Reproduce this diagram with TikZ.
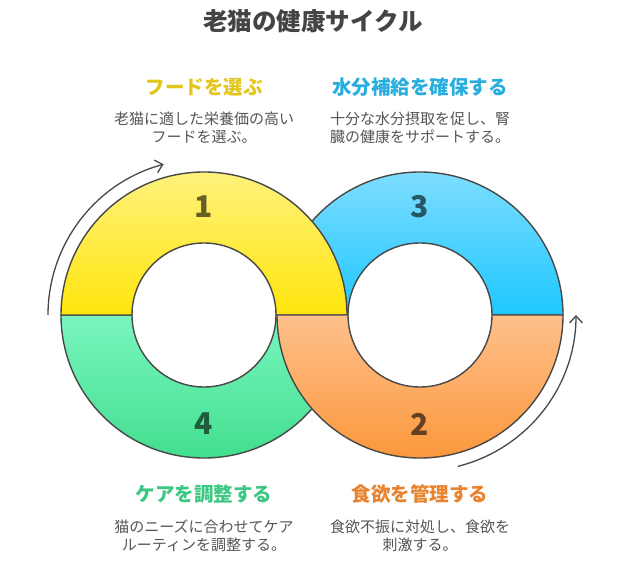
\documentclass[tikz,border=0pt]{standalone}
\usepackage{fontspec}
\newfontfamily\jpfont{Noto Sans CJK JP}
\usetikzlibrary{arrows.meta, positioning, calc}
\definecolor{colTitle}{RGB}{68, 68, 68}
\definecolor{colText}{RGB}{85, 85, 85}
\definecolor{colLine}{RGB}{72, 72, 72}
\definecolor{colFoodA}{RGB}{255, 242, 125}
\definecolor{colFoodB}{RGB}{255, 229, 12}
\definecolor{colWaterA}{RGB}{125, 221, 255}
\definecolor{colWaterB}{RGB}{30, 199, 255}
\definecolor{colCareA}{RGB}{122, 246, 192}
\definecolor{colCareB}{RGB}{66, 222, 142}
\definecolor{colAppA}{RGB}{255, 192, 140}
\definecolor{colAppB}{RGB}{251, 152, 60}
\definecolor{colFood}{RGB}{228, 197, 27}
\definecolor{colWater}{RGB}{40, 174, 222}
\definecolor{colCare}{RGB}{60, 200, 131}
\definecolor{colApp}{RGB}{232, 131, 47}

\begin{document}
\begin{tikzpicture}[x=1pt, y=1pt,
    every node/.style={font=\jpfont},
    halfring/.style={draw=colLine, line width=1.4pt},
    heading/.style={font=\jpfont\bfseries\fontsize{19.5}{22}\selectfont},
    desc/.style={font=\jpfont\fontsize{15}{18}\selectfont, text=colText, align=center},
    num/.style={font=\jpfont\bfseries\fontsize{30}{30}\selectfont, text=black, text opacity=0.6},
    cyclearrow/.style={draw=colLine, line width=1.3pt, -{Straight Barb[length=7pt, width=13pt]}}]
    \useasboundingbox (0, 0) rectangle (624, 563);
    \coordinate (lc) at (204, 248);
    \coordinate (rc) at (420, 248);

    % Title
    \node[font=\jpfont\bfseries\fontsize{24.5}{28}\selectfont, text=colTitle] (title) at (313, 542) {老猫の健康サイクル};

    % Rings (blue, green, yellow, orange)
    \draw[halfring, top color=colWaterA, bottom color=colWaterB] ($(rc)+(-143,0)$) arc[start angle=180, end angle=0, radius=143] -- ($(rc)+(72,0)$) arc[start angle=0, end angle=180, radius=72] -- cycle;
    \draw[halfring, top color=colCareA, bottom color=colCareB] ($(lc)+(-143,0)$) arc[start angle=180, end angle=360, radius=143] -- ($(lc)+(72,0)$) arc[start angle=360, end angle=180, radius=72] -- cycle;
    \draw[halfring, top color=colFoodA, bottom color=colFoodB] ($(lc)+(-143,0)$) arc[start angle=180, end angle=0, radius=143] -- ($(lc)+(72,0)$) arc[start angle=0, end angle=180, radius=72] -- cycle;
    \draw[halfring, top color=colAppA, bottom color=colAppB] ($(rc)+(-143,0)$) arc[start angle=180, end angle=360, radius=143] -- ($(rc)+(72,0)$) arc[start angle=360, end angle=180, radius=72] -- cycle;

    % Step numbers
    \node[num] (n1) at ($(lc)+(0,108)$) {1};
    \node[num] (n3) at ($(rc)+(0,108)$) {3};
    \node[num] (n4) at ($(lc)+(0,-109)$) {4};
    \node[num] (n2) at ($(rc)+(0,-109)$) {2};

    % Cycle arrows
    \draw[cyclearrow] ($(lc)+(180:156)$) arc[start angle=180, end angle=105, radius=156];
    \draw[cyclearrow] ($(rc)+(-76:156)$) arc[start angle=-76, end angle=0, radius=156];

    % Labels
    \node[heading, text=colFood] (food) at (204, 476) {フードを選ぶ};
    \node[desc] (foodtxt) at (204, 435) {老猫に適した栄養価の高い\\フードを選ぶ。};
    \node[heading, text=colWater] (water) at (420, 476) {水分補給を確保する};
    \node[desc] (watertxt) at (420, 435) {十分な水分摂取を促し、腎\\臓の健康をサポートする。};
    \node[heading, text=colCare] (care) at (204, 69) {ケアを調整する};
    \node[desc] (caretxt) at (204, 27.5) {猫のニーズに合わせてケア\\ルーティンを調整する。};
    \node[heading, text=colApp] (app) at (420, 69) {食欲を管理する};
    \node[desc] (apptxt) at (420, 27.5) {食欲不振に対処し、食欲を\\刺激する。};
\end{tikzpicture}
\end{document}
